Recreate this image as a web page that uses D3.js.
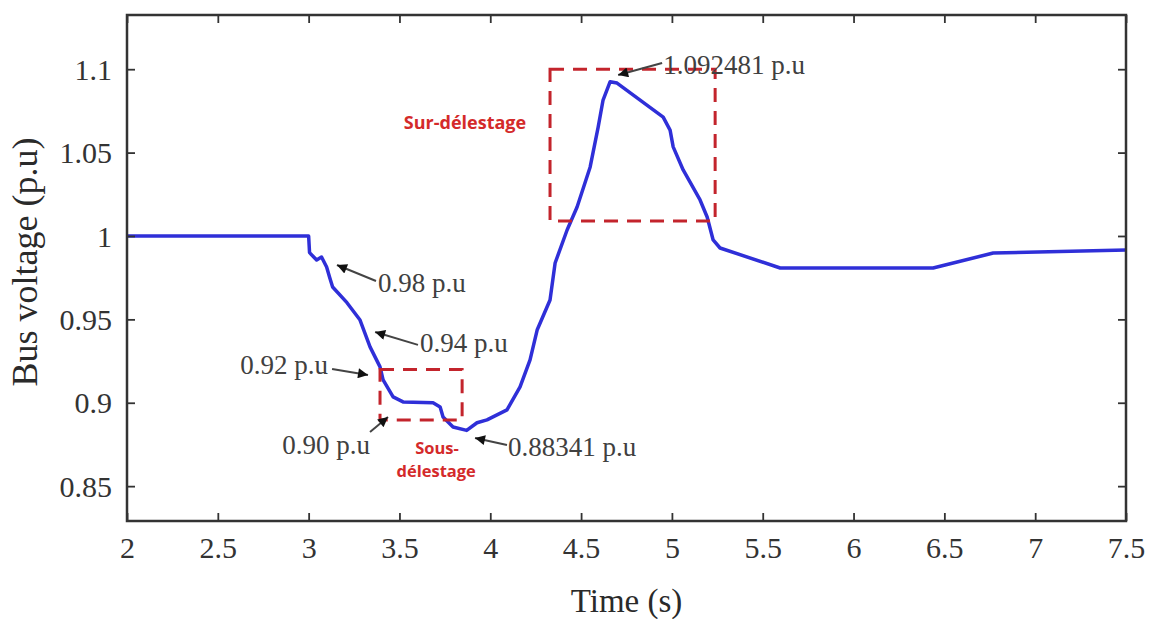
<!DOCTYPE html>
<html>
<head>
<meta charset="utf-8">
<script src="https://cdn.jsdelivr.net/npm/d3@7"></script>
<style>
  html, body { margin: 0; padding: 0; background: #fff; }
  svg { display: block; }
  svg text.tk { font-family: "Liberation Serif", "Times New Roman", serif !important; font-size: 30px !important; }
</style>
</head>
<body>
<svg id="chart" width="1152" height="619"></svg>
<script>
// ---- data ----
const time = [2.0, 3.0, 3.005, 3.044, 3.071, 3.099, 3.115, 3.132, 3.211, 3.283, 3.338, 3.393, 3.41, 3.465, 3.52,
  3.685, 3.724, 3.74, 3.795, 3.87, 3.927, 3.982, 4.092, 4.164, 4.219, 4.258, 4.329, 4.357, 4.423, 4.478, 4.55,
  4.594, 4.621, 4.66, 4.698, 4.825, 4.952, 4.99, 5.007, 5.062, 5.155, 5.194, 5.227, 5.265, 5.596, 6.438, 6.769, 7.5];
const voltage = [1.0, 1.0, 0.990, 0.9856, 0.9874, 0.9814, 0.9754, 0.9694, 0.960, 0.9496, 0.9335, 0.9215, 0.9137, 0.9035, 0.9005,
  0.900, 0.8975, 0.8915, 0.8855, 0.88341, 0.888, 0.8897, 0.8957, 0.9095, 0.9257, 0.9436, 0.9616, 0.9838, 1.0036, 1.0174, 1.0414,
  1.0653, 1.0815, 1.092481, 1.0917, 1.0815, 1.0713, 1.0635, 1.0534, 1.0396, 1.0216, 1.0114, 0.9976, 0.9928, 0.9808, 0.9808, 0.9898, 0.9916];

const xTicks = [2, 2.5, 3, 3.5, 4, 4.5, 5, 5.5, 6, 6.5, 7, 7.5];
const xTickLabels = ["2", "2.5", "3", "3.5", "4", "4.5", "5", "5.5", "6", "6.5", "7", "7.5"];
const yTicks = [0.85, 0.9, 0.95, 1, 1.05, 1.1];
const yTickLabels = ["0.85", "0.9", "0.95", "1", "1.05", "1.1"];

const xTitle = "Time (s)";
const yTitle = "Bus voltage (p.u)";

// annotation: text, text anchor point, arrow tail, arrow tip (data units)
const annoText   = ["0.98 p.u", "0.94 p.u", "0.92 p.u", "0.90 p.u", "0.88341 p.u", "1.092481 p.u"];
const annoAnchor = ["start", "start", "end", "end", "start", "start"];
const annoTextT  = [3.382, 3.613, 3.107, 3.338, 4.098, 4.952];
const annoTextV  = [0.9718, 0.9359, 0.9227, 0.8747, 0.8735, 1.1025];
const annoTailT  = [3.371, 3.602, 3.129, 3.338, 4.092, 4.946];
const annoTailV  = [0.973, 0.9347, 0.9203, 0.8825, 0.8747, 1.1037];
const annoTipT   = [3.156, 3.366, 3.327, 3.437, 3.916, 4.704];
const annoTipV   = [0.9826, 0.9424, 0.9167, 0.8915, 0.8789, 1.0965];

// dashed highlight boxes: [t0, t1], [vTop, vBottom]
const boxT0 = [3.393, 4.329];
const boxT1 = [3.845, 5.238];
const boxVTop = [0.920, 1.100];
const boxVBot = [0.8897, 1.009];

// red labels
const redLines = ["Sur-délestage", "Sous-", "délestage"];
const redT = [3.861, 3.707, 3.702];
const redV = [1.0677, 0.8729, 0.8591];
const redSize = [18, 16.5, 16.5];

// ---- layout ----
const svg = d3.select("#chart");
const mLeft = 127, mRight = 1126, mTop = 15, mBottom = 521;
const x = d3.scaleLinear().domain([2, 7.5]).range([mLeft, mRight]);
const y = d3.scaleLinear().domain([0.8291, 1.1325]).range([mBottom, mTop]);

const serif = "Liberation Serif, Times New Roman, serif";
const axisColor = "#333";

// curve
const pts = time.map((t, i) => [t, voltage[i]]);
svg.append("path")
  .datum(pts)
  .attr("fill", "none")
  .attr("stroke", "#2f2fd8")
  .attr("stroke-width", 3.5)
  .attr("stroke-linejoin", "round")
  .attr("d", d3.line().x(d => x(d[0])).y(d => y(d[1])));

// boxes
boxT0.forEach((t0, i) => {
  svg.append("rect")
    .attr("x", x(t0)).attr("y", y(boxVTop[i]))
    .attr("width", x(boxT1[i]) - x(t0))
    .attr("height", y(boxVBot[i]) - y(boxVTop[i]))
    .attr("fill", "none")
    .attr("stroke", "#c3242c")
    .attr("stroke-width", 3)
    .attr("stroke-dasharray", "14,9");
});

// axes
const gx = svg.append("g").attr("transform", `translate(0,${mBottom})`);
gx.call(d3.axisBottom(x).tickValues(xTicks).tickFormat((d, i) => xTickLabels[i])
    .tickSizeInner(-8).tickSizeOuter(0).tickPadding(16));
const gxTop = svg.append("g").attr("transform", `translate(0,${mTop})`);
gxTop.call(d3.axisTop(x).tickValues(xTicks).tickFormat("").tickSizeInner(-8).tickSizeOuter(0));
const gy = svg.append("g").attr("transform", `translate(${mLeft},0)`);
gy.call(d3.axisLeft(y).tickValues(yTicks).tickFormat((d, i) => yTickLabels[i])
    .tickSizeInner(-8).tickSizeOuter(0).tickPadding(15));
const gyR = svg.append("g").attr("transform", `translate(${mRight},0)`);
gyR.call(d3.axisRight(y).tickValues(yTicks).tickFormat("").tickSizeInner(-8).tickSizeOuter(0));

[gx, gxTop, gy, gyR].forEach(g => {
  g.attr("font-family", serif).attr("font-size", 30);
  g.select(".domain").remove();
  g.selectAll(".tick line").attr("stroke", axisColor).attr("stroke-width", 1.8);
  g.selectAll(".tick text")
    .classed("tk", true)
    .attr("font-family", serif).attr("font-size", 30).attr("fill", "#333");
});
gy.selectAll(".tick text").attr("dy", "0.34em");

svg.append("rect")
  .attr("x", mLeft).attr("y", mTop)
  .attr("width", mRight - mLeft).attr("height", mBottom - mTop)
  .attr("fill", "none").attr("stroke", axisColor).attr("stroke-width", 2.5);

// axis titles
svg.append("text")
  .attr("x", (mLeft + mRight) / 2).attr("y", 612)
  .attr("text-anchor", "middle")
  .style("font-family", serif).style("font-size", "33px").attr("fill", "#2a2a2a")
  .text(xTitle);
svg.append("text")
  .attr("transform", `translate(37,262) rotate(-90)`)
  .attr("text-anchor", "middle")
  .style("font-family", serif).style("font-size", "36px").attr("fill", "#2a2a2a")
  .text(yTitle);

// arrow marker
svg.append("defs").append("marker")
  .attr("id", "arr")
  .attr("viewBox", "0 0 10 10")
  .attr("refX", 10).attr("refY", 5)
  .attr("markerWidth", 14).attr("markerHeight", 10)
  .attr("markerUnits", "userSpaceOnUse")
  .attr("orient", "auto")
  .append("path").attr("d", "M0,0 L10,5 L0,10 Z").attr("fill", "#111");

annoText.forEach((txt, i) => {
  svg.append("line")
    .attr("x1", x(annoTailT[i])).attr("y1", y(annoTailV[i]))
    .attr("x2", x(annoTipT[i])).attr("y2", y(annoTipV[i]))
    .attr("stroke", "#444").attr("stroke-width", 2)
    .attr("marker-end", "url(#arr)");
  svg.append("text")
    .attr("x", x(annoTextT[i])).attr("y", y(annoTextV[i]))
    .attr("dy", "0.35em")
    .attr("text-anchor", annoAnchor[i])
    .style("font-family", serif).style("font-size", "27px").attr("fill", "#404040")
    .text(txt);
});

redLines.forEach((txt, i) => {
  svg.append("text")
    .attr("x", x(redT[i])).attr("y", y(redV[i]))
    .attr("dy", "0.35em")
    .attr("text-anchor", "middle")
    .style("font-family", "Open Sans, Liberation Sans, sans-serif")
    .style("font-weight", 700).style("font-size", redSize[i] + "px").attr("fill", "#d42a2a")
    .text(txt);
});
</script>
</body>
</html>
